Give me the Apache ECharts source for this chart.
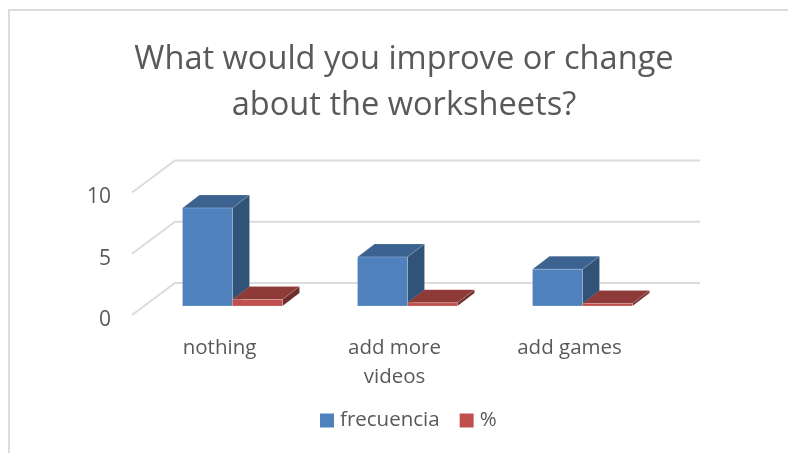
<!DOCTYPE html>
<html>
<head>
<meta charset="utf-8">
<style>
  html, body { margin: 0; padding: 0; background: #fff; }
  #chart { width: 788px; height: 453px; }
</style>
<script src="https://cdn.jsdelivr.net/npm/echarts@6/dist/echarts.min.js"></script>
</head>
<body>
<div id="chart"></div>
<script>
const categories = ['nothing', 'add more\nvideos', 'add games']
const frecuencia = [8, 4, 3]
const percent = [0.53, 0.27, 0.2]
const yTicks = [0, 5, 10]

const textColor = '#595959'
const fontFamily = '"Open Sans", sans-serif'

// depth of the 3D box and of the back wall, in pixels
const barDepth = { x: 17, y: 13 }
const wallDepth = { x: 43, y: 32 }
// bars stand part way into the floor
const floorShift = { x: 13, y: -9 }
const barWidth = 50

function renderBox(front, top, side, slot) {
  return function (params, api) {
    const cat = api.value(0)
    const base = api.coord([cat, 0])
    const head = api.coord([cat, api.value(1)])
    const x0 = base[0] + floorShift.x + (slot - 1) * barWidth
    const x1 = x0 + barWidth
    const y0 = base[1] + floorShift.y
    const y1 = head[1] + floorShift.y
    const dx = barDepth.x
    const dy = barDepth.y
    const edge = 'rgba(255,255,255,0.12)'
    return {
      type: 'group',
      children: [
        {
          type: 'polygon',
          shape: { points: [[x0, y1], [x1, y1], [x1 + dx, y1 - dy], [x0 + dx, y1 - dy]] },
          style: { fill: top, stroke: edge, lineWidth: 1 }
        },
        {
          type: 'polygon',
          shape: { points: [[x1, y0], [x1, y1], [x1 + dx, y1 - dy], [x1 + dx, y0 - dy]] },
          style: { fill: side, stroke: edge, lineWidth: 1 }
        },
        {
          type: 'rect',
          shape: { x: x0, y: y1, width: barWidth, height: y0 - y1 },
          style: { fill: front, stroke: 'rgba(255,255,255,0.2)', lineWidth: 1 }
        }
      ]
    }
  }
}

function renderWall(params, api) {
  const y = api.coord([0, api.value(0)])[1]
  const x0 = params.coordSys.x
  const x1 = x0 + params.coordSys.width
  return {
    type: 'polyline',
    shape: {
      points: [[x0, y], [x0 + wallDepth.x, y - wallDepth.y], [x1 + wallDepth.x, y - wallDepth.y]]
    },
    style: { fill: 'none', stroke: '#dcdcdc', lineWidth: 2 }
  }
}

const chart = echarts.init(document.getElementById('chart'))

chart.setOption({
  animation: false,
  backgroundColor: '#fff',
  title: {
    text: 'What would you improve or change\nabout the worksheets?',
    left: 399,
    top: 32,
    textAlign: 'center',
    textStyle: {
      color: textColor,
      fontFamily,
      fontSize: 32.6,
      fontWeight: 'normal',
      lineHeight: 46
    }
  },
  legend: {
    data: ['frecuencia', '%'],
    left: 315,
    top: 405,
    icon: 'rect',
    itemWidth: 14,
    itemHeight: 14,
    itemGap: 20,
    textStyle: { color: textColor, fontFamily, fontSize: 20.5, padding: [0, 0, 0, 1] }
  },
  graphic: [
    {
      type: 'polyline',
      silent: true,
      shape: { points: [[9, 453], [9, 10], [788, 10]] },
      style: { fill: 'none', stroke: '#dcdcdc', lineWidth: 2 }
    }
  ],
  grid: { left: 132, right: 131, top: 192.5, bottom: 138 },
  xAxis: {
    type: 'category',
    data: categories,
    axisLine: { show: false },
    axisTick: { show: false },
    axisLabel: {
      color: textColor,
      fontFamily,
      fontSize: 20.5,
      margin: 19,
      lineHeight: 29,
      interval: 0
    }
  },
  yAxis: {
    type: 'value',
    min: 0,
    max: 10,
    interval: 5,
    splitLine: { show: false },
    axisLine: { show: false },
    axisTick: { show: false },
    axisLabel: { color: textColor, fontFamily, fontSize: 21, margin: 21, verticalAlign: 'top', lineHeight: 10 }
  },
  series: [
    {
      type: 'custom',
      silent: true,
      z: 1,
      data: yTicks.map(v => [v]),
      encode: { y: 0 },
      renderItem: renderWall
    },
    {
      name: 'frecuencia',
      type: 'custom',
      z: 2,
      itemStyle: { color: '#4f81bd' },
      data: frecuencia.map((v, i) => [i, v]),
      encode: { x: 0, y: 1 },
      renderItem: renderBox('#4f81bd', '#3c6390', '#325378', 0)
    },
    {
      name: '%',
      type: 'custom',
      z: 2,
      itemStyle: { color: '#c0504d' },
      data: percent.map((v, i) => [i, v]),
      encode: { x: 0, y: 1 },
      renderItem: renderBox('#c0504d', '#8e3a38', '#6f2d2b', 1)
    }
  ]
})
</script>
</body>
</html>
